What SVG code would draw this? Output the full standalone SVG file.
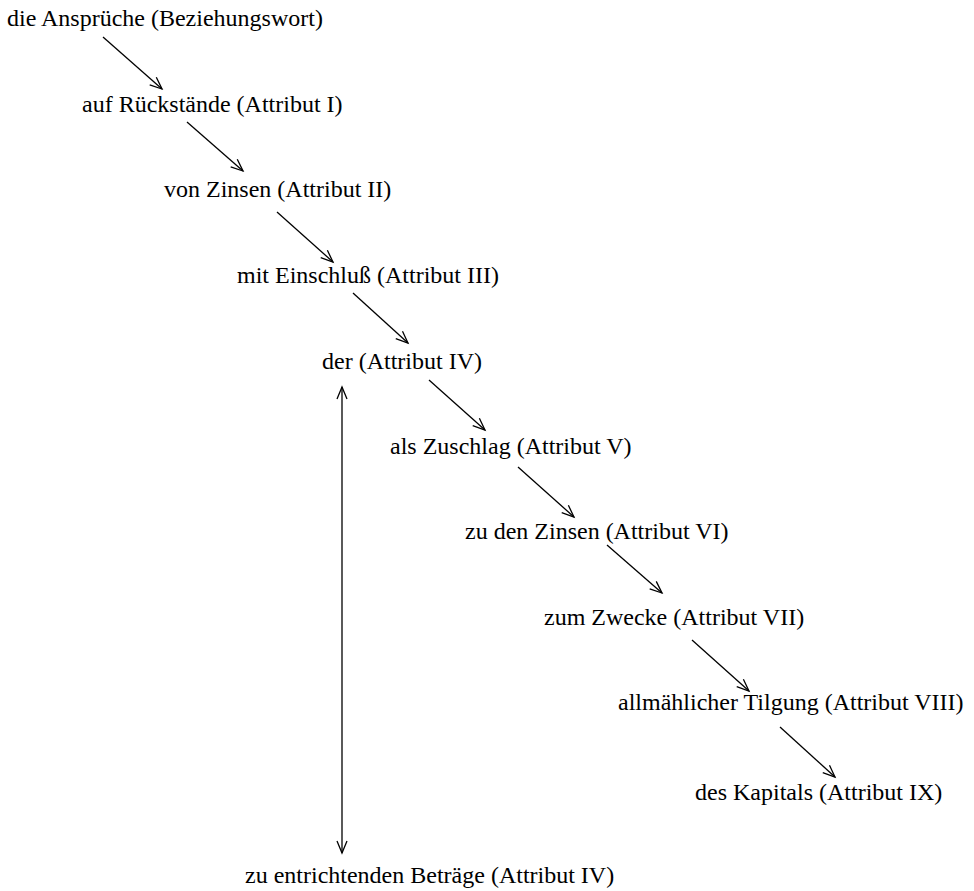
<svg xmlns="http://www.w3.org/2000/svg" width="974" height="891" viewBox="0 0 974 891">
<style>
text{font-family:"Liberation Serif","Times New Roman",serif;font-size:24px;fill:#000}
.c line{stroke:#000;stroke-width:1.3;fill:none}
</style>
<defs>
<marker id="ah" markerUnits="userSpaceOnUse" markerWidth="16" markerHeight="14" refX="13" refY="6" orient="auto-start-reverse" viewBox="0 0 16 12">
<path d="M1,1 L13,6 L1,11" fill="none" stroke="#000" stroke-width="1.3"/>
</marker>
</defs>
<rect width="974" height="891" fill="#fff"/>
<g id="n1"><text x="7" y="26">die Ansprüche (Beziehungswort)</text></g>
<g id="n2"><text x="82" y="112">auf Rückstände (Attribut I)</text></g>
<g id="n3"><text x="164" y="197">von Zinsen (Attribut II)</text></g>
<g id="n4"><text x="237" y="283">mit Einschluß (Attribut III)</text></g>
<g id="n5"><text x="322" y="369">der (Attribut IV)</text></g>
<g id="n6"><text x="390" y="454">als Zuschlag (Attribut V)</text></g>
<g id="n7"><text x="465" y="539">zu den Zinsen (Attribut VI)</text></g>
<g id="n8"><text x="544" y="625">zum Zwecke (Attribut VII)</text></g>
<g id="n9"><text x="618" y="710">allmählicher Tilgung (Attribut VIII)</text></g>
<g id="n10"><text x="695" y="800">des Kapitals (Attribut IX)</text></g>
<g id="n11"><text x="245" y="883">zu entrichtenden Beträge (Attribut IV)</text></g>
<g class="c" id="connectors">
<line x1="103" y1="37" x2="162" y2="89" marker-end="url(#ah)"/>
<line x1="187" y1="122" x2="243" y2="171" marker-end="url(#ah)"/>
<line x1="277" y1="212" x2="333" y2="262" marker-end="url(#ah)"/>
<line x1="353" y1="293" x2="408" y2="343" marker-end="url(#ah)"/>
<line x1="429" y1="380" x2="485" y2="430" marker-end="url(#ah)"/>
<line x1="518" y1="467" x2="574" y2="517" marker-end="url(#ah)"/>
<line x1="607" y1="545" x2="662" y2="593" marker-end="url(#ah)"/>
<line x1="692" y1="640" x2="749" y2="691" marker-end="url(#ah)"/>
<line x1="780" y1="727" x2="835" y2="777" marker-end="url(#ah)"/>
<line x1="342" y1="387" x2="342" y2="853" marker-start="url(#ah)" marker-end="url(#ah)"/>
</g>
</svg>
